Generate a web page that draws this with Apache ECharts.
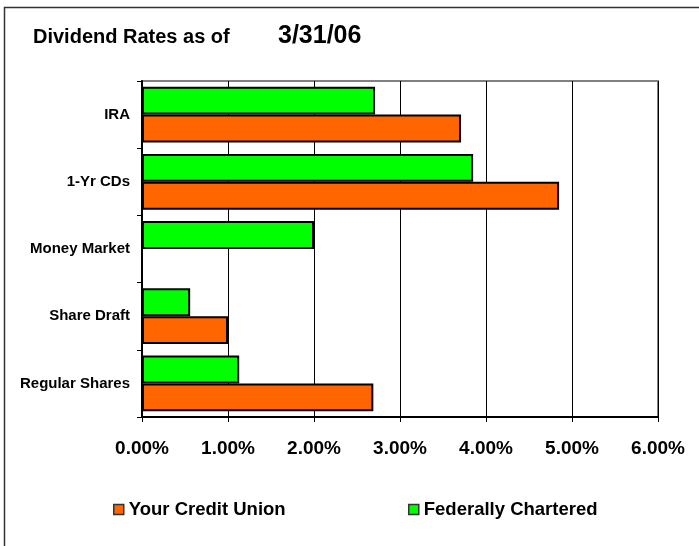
<!DOCTYPE html>
<html>
<head>
<meta charset="utf-8">
<script src="https://cdn.jsdelivr.net/npm/echarts@6/dist/echarts.min.js"></script>
<style>
html,body{margin:0;padding:0;background:#fff;}
#c{width:699px;height:546px;}
</style>
</head>
<body>
<div id="c"></div>
<script>
// bottom-to-top category order
var categories = ['Regular Shares', 'Share Draft', 'Money Market', '1-Yr CDs', 'IRA'];
var yourCreditUnion = [2.69, 1.00, 0, 4.85, 3.71];
var federallyChartered = [1.13, 0.56, 2.00, 3.85, 2.71];
var xTicks = [0, 1, 2, 3, 4, 5, 6];

var FONT = '"Liberation Sans", Arial, sans-serif';
var chart = echarts.init(document.getElementById('c'), null, {renderer: 'canvas'});
chart.setOption({
  animation: false,
  backgroundColor: '#fff',
  title: [
    {text: 'Dividend Rates as of', left: 28, top: 22, textStyle: {fontFamily: FONT, fontWeight: 'bold', fontSize: 20, color: '#000'}},
    {text: '3/31/06', left: 273, top: 19, textStyle: {fontFamily: FONT, fontWeight: 'bold', fontSize: 25, color: '#000'}}
  ],
  graphic: [{
    type: 'rect', shape: {x: 4.5, y: 7.5, width: 800, height: 700},
    style: {fill: 'none', stroke: '#333', lineWidth: 1.5}, z: -10, silent: true
  }],
  legend: [
    {data: ['Your Credit Union'], left: 108, top: 495, padding: 5, icon: 'rect', itemWidth: 10, itemHeight: 10,
     itemStyle: {borderColor: '#333', borderWidth: 1.5},
     textStyle: {fontFamily: FONT, fontWeight: 'bold', fontSize: 18.5, color: '#000'}},
    {data: ['Federally Chartered'], left: 403, top: 495, padding: 5, icon: 'rect', itemWidth: 10, itemHeight: 10,
     itemStyle: {borderColor: '#333', borderWidth: 1.5},
     textStyle: {fontFamily: FONT, fontWeight: 'bold', fontSize: 18.5, color: '#000'}}
  ],
  grid: {left: 142, right: 41, top: 81, bottom: 129, show: true, borderColor: '#808080', borderWidth: 2, backgroundColor: '#fff'},
  xAxis: {
    type: 'value', min: xTicks[0], max: xTicks[xTicks.length - 1], interval: 1,
    axisLine: {show: true, lineStyle: {color: '#000', width: 2}},
    axisTick: {show: true, length: 5, lineStyle: {color: '#000'}},
    splitLine: {show: true, lineStyle: {color: '#000', width: 1}},
    axisLabel: {margin: 22, fontFamily: FONT, fontWeight: 'bold', fontSize: 19, color: '#000',
      formatter: function (v) { return v.toFixed(2) + '%'; }}
  },
  yAxis: {
    type: 'category', data: categories,
    axisLine: {show: true, lineStyle: {color: '#000', width: 2}},
    axisTick: {show: true, length: 5, lineStyle: {color: '#000'}},
    axisLabel: {margin: 12, fontFamily: FONT, fontWeight: 'bold', fontSize: 15, color: '#000'}
  },
  series: [
    {name: 'Federally Chartered', type: 'bar', data: federallyChartered, barGap: '0%', barCategoryGap: '17%',
     itemStyle: {color: '#00FF00', borderColor: '#000', borderWidth: 2}},
    {name: 'Your Credit Union', type: 'bar', data: yourCreditUnion, barGap: '0%', barCategoryGap: '17%',
     itemStyle: {color: '#FF6600', borderColor: '#000', borderWidth: 2}}
  ]
});
</script>
</body>
</html>
